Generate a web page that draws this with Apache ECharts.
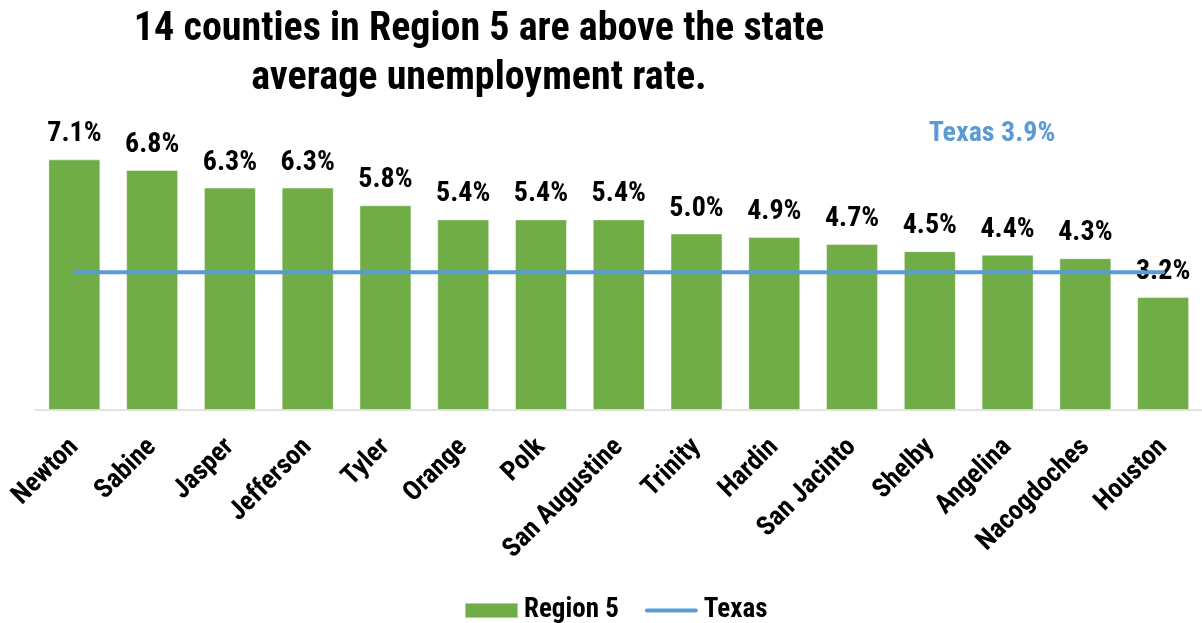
<!DOCTYPE html>
<html>
<head>
<meta charset="utf-8">
<script src="https://cdn.jsdelivr.net/npm/echarts@6/dist/echarts.min.js"></script>
<style>
  html, body { margin: 0; padding: 0; background: #fff; }
  #chart { width: 1202px; height: 623px; }
</style>
</head>
<body>
<div id="chart"></div>
<script>
const counties = ["Newton", "Sabine", "Jasper", "Jefferson", "Tyler", "Orange", "Polk",
  "San Augustine", "Trinity", "Hardin", "San Jacinto", "Shelby", "Angelina", "Nacogdoches", "Houston"];
const regionRates = [7.1, 6.8, 6.3, 6.3, 5.8, 5.4, 5.4, 5.4, 5.0, 4.9, 4.7, 4.5, 4.4, 4.3, 3.2];
const texasRate = 3.9;
const texasLine = counties.map(() => texasRate);

const FONT = '"Roboto Condensed", "DejaVu Sans Condensed", sans-serif';
const GREEN = "#70AD47";
const BLUE = "#5B9BD5";

const chart = echarts.init(document.getElementById("chart"));
chart.setOption({
  animation: false,
  textStyle: { fontFamily: FONT },
  title: [
    {
      text: "14 counties in Region 5 are above the state\naverage unemployment rate.",
      left: 474,
      top: 0,
      textAlign: "center",
      textStyle: { fontFamily: FONT, fontSize: 40, fontWeight: "bold", color: "#000", lineHeight: 49 },
    },
    {
      text: `Texas ${texasRate.toFixed(1)}%`,
      left: 987,
      top: 115,
      textAlign: "center",
      textStyle: { fontFamily: FONT, fontSize: 28, fontWeight: "bold", color: BLUE },
    },
  ],
  legend: {
    top: 592,
    left: 459,
    itemWidth: 53,
    itemHeight: 15,
    itemGap: 26,
    textStyle: { fontFamily: FONT, fontSize: 27, fontWeight: "bold", color: "#000", padding: [0, 0, 0, 1] },
    data: [
      { name: "Region 5", icon: "rect" },
      { name: "Texas", icon: "path://M2,0 L54,0 A2,2 0 0 1 54,4 L2,4 A2,2 0 0 1 2,0 Z" },
    ],
  },
  grid: { left: 35.5, top: 127.6, width: 1170, height: 282.4 },
  xAxis: {
    type: "category",
    data: counties,
    axisLine: { lineStyle: { color: "#d9d9d9", width: 1.5 } },
    axisTick: { show: false },
    axisLabel: {
      rotate: 45,
      interval: 0,
      margin: 33,
      color: "#000",
      fontFamily: FONT,
      fontSize: 27,
      fontWeight: "bold",
    },
  },
  yAxis: {
    type: "value",
    min: 0,
    max: 8,
    show: false,
    splitLine: { show: false },
  },
  series: [
    {
      name: "Region 5",
      type: "bar",
      data: regionRates,
      barWidth: 52,
      itemStyle: { color: GREEN, borderColor: "rgba(255,255,255,0.45)", borderWidth: 1 },
      label: {
        show: true,
        position: "top",
        distance: 11,
        color: "#000",
        fontFamily: FONT,
        fontSize: 28,
        fontWeight: "bold",
        formatter: (p) => p.value.toFixed(1) + "%",
      },
      z: 2,
    },
    {
      name: "Texas",
      type: "line",
      data: texasLine,
      symbol: "none",
      lineStyle: { color: BLUE, width: 4, cap: "round" },
      itemStyle: { color: BLUE },
      z: 3,
    },
  ],
});
</script>
</body>
</html>
